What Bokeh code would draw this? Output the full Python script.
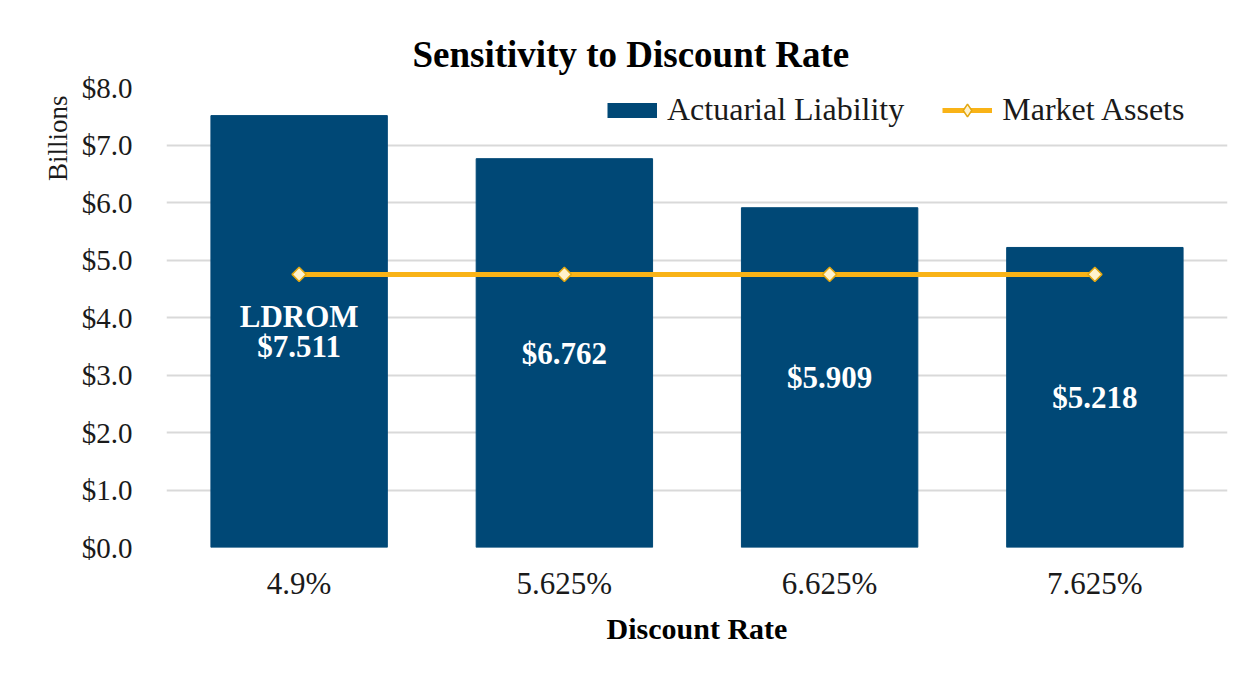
import math
from bokeh.plotting import figure
from bokeh.models import ColumnDataSource, FactorRange, Legend, LegendItem, NumeralTickFormatter, Title
from bokeh.core.properties import value
from bokeh.embed import file_html
from bokeh.resources import INLINE

# ---- data ----
rates = ["4.9%", "5.625%", "6.625%", "7.625%"]
liability = [7.511, 6.762, 5.909, 5.218]
assets = [4.75, 4.75, 4.75, 4.75]
bar_labels = ["LDROM\n$7.511", "$6.762", "$5.909", "$5.218"]

NAVY = "#004876"
GOLD = "#F9B317"
SERIF = "Liberation Serif"

src = ColumnDataSource(dict(
    rate=rates,
    liab=liability,
    mid=[v / 2 for v in liability],
    assets=assets,
    lab=bar_labels,
))

p = figure(
    x_range=FactorRange(*rates, range_padding=0),
    y_range=(0, 8),
    width=1236, height=661,
    output_backend="svg", toolbar_location=None,
    min_border_left=166, min_border_right=9,
    min_border_top=87, min_border_bottom=114,
)
p.outline_line_color = None
p.background_fill_color = "white"
p.border_fill_color = "white"

bars = p.vbar(x="rate", top="liab", width=0.665, source=src,
              fill_color=NAVY, line_color=NAVY)
# legend proxy for the bars: zero-length segment (invisible in plot)
bar_proxy = p.segment(x0="rate", y0="liab", x1="rate", y1="liab", source=src,
                      line_color=NAVY, line_width=15, line_cap="butt")
line = p.line(x="rate", y="assets", source=src, line_color=GOLD, line_width=5)
# legend proxy for the markers: size 0, hidden beneath the real markers
mk_proxy = p.scatter(x="rate", y="assets", source=src, marker="diamond", size=0,
                     fill_color="#FFF2CC", line_color="#E3A70F", line_width=1.5)
pts = p.scatter(x="rate", y="assets", source=src, marker="square", angle=math.pi / 4,
                size=10, fill_color="#FFF2CC", line_color="#E3A70F", line_width=1.5)

p.text(x="rate", y="mid", text="lab", source=src,
       text_font=value(SERIF), text_font_size="31px", text_font_style="bold",
       text_color="white", text_align="center", text_baseline="middle",
       text_line_height=0.85)

# axes
p.yaxis.ticker = [0, 1, 2, 3, 4, 5, 6, 7, 8]
p.yaxis.formatter = NumeralTickFormatter(format="$0.0")
for ax in (p.xaxis[0], p.yaxis[0]):
    ax.axis_line_color = None
    ax.major_tick_line_color = None
    ax.minor_tick_line_color = None
    ax.major_label_text_font = SERIF
    ax.major_label_text_color = "#1a1a1a"
p.yaxis.major_label_text_font_size = "29px"
p.xaxis.major_label_text_font_size = "31px"
p.yaxis.major_label_standoff = 28
p.xaxis.major_label_standoff = 12
p.xaxis.axis_label = "Discount Rate"
p.xaxis.axis_label_text_font = SERIF
p.xaxis.axis_label_text_font_size = "30px"
p.xaxis.axis_label_text_font_style = "bold"
p.xaxis.axis_label_text_color = "black"
p.xaxis.axis_label_standoff = 8

p.xgrid.grid_line_color = None
p.ygrid.grid_line_color = "#D9D9D9"
p.ygrid.grid_line_width = 2

# title and y label
p.add_layout(Title(text="Sensitivity to Discount Rate", text_font=SERIF,
                   text_font_size="37px", text_font_style="bold", text_color="black",
                   align="left", offset=246, standoff=26), "above")
p.add_layout(Title(text="Billions", text_font=SERIF, text_font_size="27px",
                   text_font_style="normal", text_color="#1a1a1a",
                   align="right", offset=8, standoff=12), "left")

legend = Legend(items=[
    LegendItem(label="Actuarial Liability", renderers=[bar_proxy]),
    LegendItem(label="Market Assets", renderers=[line, mk_proxy]),
], orientation="horizontal", location=(441, 419))
legend.label_text_font = SERIF
legend.label_text_font_size = "32px"
legend.label_text_color = "#1a1a1a"
legend.glyph_width = 50
legend.glyph_height = 32
legend.label_standoff = 10
legend.spacing = 38
legend.padding = 0
legend.margin = 0
legend.border_line_color = None
legend.background_fill_alpha = 0
p.add_layout(legend)

open("out.html", "w").write(file_html(p, INLINE))
